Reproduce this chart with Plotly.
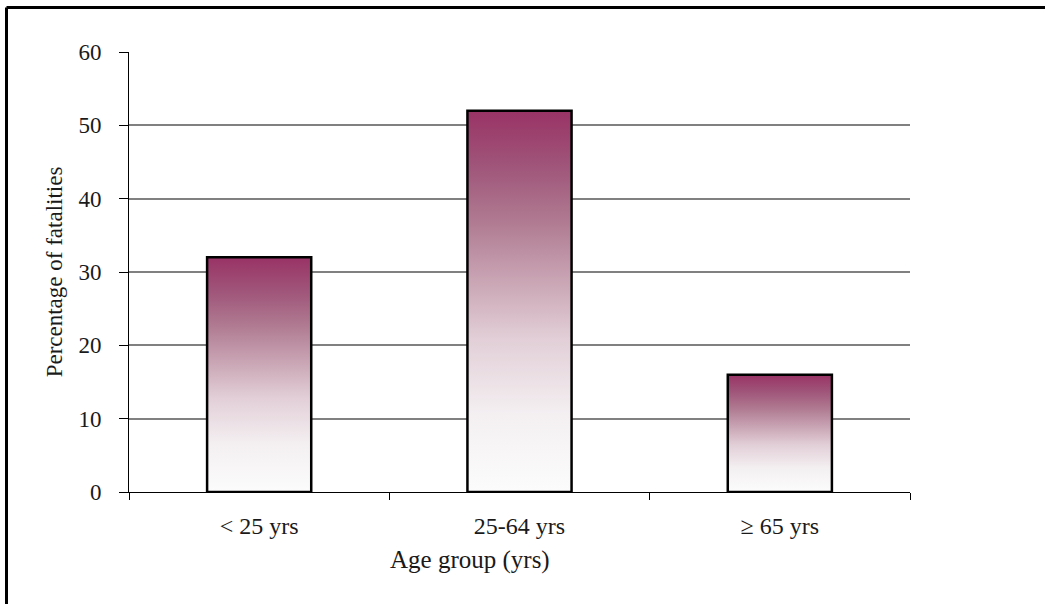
import plotly.graph_objects as go

# Share of fatalities by age group
age_groups = ["< 25 yrs", "25-64 yrs", "\u2265 65 yrs"]
pct_fatalities = [32, 52, 16]

y_ticks = [0, 10, 20, 30, 40, 50, 60]

W, H = 1045, 604
L, R, T, B = 129, 910, 52, 492  # plot area in pixels

BAR_WIDTH = 0.4
PLUM = "#993366"
gradient = [
    [0.0, "#fcfcfc"],
    [0.2, "#f4f0f2"],
    [0.4, "#e2cfd7"],
    [0.55, "#caa6b5"],
    [0.7, "#b17d93"],
    [0.85, "#a0567a"],
    [1.0, PLUM],
]

fig = go.Figure()

for i, (name, val) in enumerate(zip(age_groups, pct_fatalities)):
    x0, x1 = i - BAR_WIDTH / 2, i + BAR_WIDTH / 2
    fig.add_trace(go.Scatter(
        x=[x0, x0, x1, x1, x0],
        y=[0, val, val, 0, 0],
        mode="lines",
        fill="toself",
        fillgradient=dict(type="vertical", colorscale=gradient),
        line=dict(color="black", width=2.5),
        name=name,
        hoverinfo="skip",
        showlegend=False,
    ))

font_family = "Liberation Serif, Times New Roman, serif"

fig.update_layout(
    width=W, height=H,
    margin=dict(l=L, r=W - R, t=T, b=H - B, pad=0),
    paper_bgcolor="white",
    plot_bgcolor="white",
    font=dict(family=font_family, size=22, color="#1a1a1a"),
    xaxis=dict(
        range=[-0.5, len(age_groups) - 0.5],
        tickvals=list(range(len(age_groups))),
        ticktext=age_groups,
        ticks="",
        ticklabelstandoff=12,
        showgrid=False,
        zeroline=False,
        showline=True,
        linecolor="black",
        linewidth=1,
        minor=dict(
            tickvals=[k - 0.5 for k in range(len(age_groups) + 1)],
            ticks="outside",
            ticklen=7,
            tickcolor="black",
            tickwidth=1,
            showgrid=False,
        ),
        tickfont=dict(size=24),
    ),
    yaxis=dict(
        range=[0, 60],
        tickvals=y_ticks,
        ticks="outside",
        ticklen=9,
        tickcolor="black",
        tickwidth=1,
        ticklabelstandoff=13,
        showgrid=True,
        gridcolor="#808080",
        gridwidth=1.5,
        zeroline=False,
        showline=True,
        linecolor="black",
        linewidth=1,
        tickfont=dict(size=23),
        title=dict(text="Percentage of fatalities", font=dict(size=23), standoff=9),
    ),
)

# x-axis title
fig.add_annotation(
    text="Age group (yrs)",
    xref="paper", yref="paper",
    x=(470 - L) / (R - L), y=-(560 - B) / (B - T),
    showarrow=False,
    font=dict(size=25),
    xanchor="center", yanchor="middle",
)

# frame on the top and left edges of the chart area
top_y = (B - 7.5) / (B - T)
left_x = (6.5 - L) / (R - L)
fig.add_shape(type="line", xref="paper", yref="paper",
              x0=left_x, x1=(W + 5 - L) / (R - L), y0=top_y, y1=top_y,
              line=dict(color="black", width=3))
fig.add_shape(type="line", xref="paper", yref="paper",
              x0=left_x, x1=left_x, y0=top_y, y1=-(H + 5 - B) / (B - T),
              line=dict(color="black", width=3))

fig.write_html("out.html")
